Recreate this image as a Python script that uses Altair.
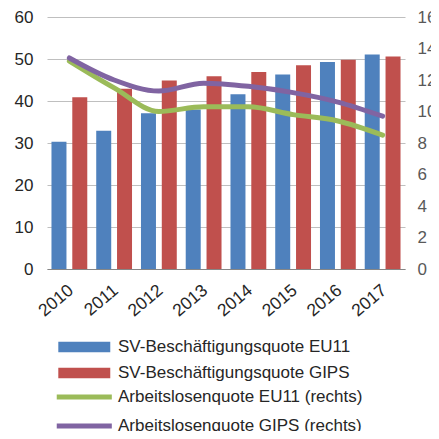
import altair as alt
import pandas as pd

years = ["2010", "2011", "2012", "2013", "2014", "2015", "2016", "2017"]
emp_eu11 = [30.3, 32.9, 37.1, 38.0, 41.6, 46.3, 49.3, 51.1]
emp_gips = [40.9, 42.9, 44.9, 45.9, 46.9, 48.5, 49.8, 50.6]
unemp_eu11 = [13.2, 11.5, 10.0, 10.3, 10.3, 9.8, 9.4, 8.5]
unemp_gips = [13.4, 12.0, 11.3, 11.8, 11.6, 11.2, 10.6, 9.7]

bar_names = ["SV-Beschäftigungsquote EU11", "SV-Beschäftigungsquote GIPS"]
line_names = ["Arbeitslosenquote EU11 (rechts)", "Arbeitslosenquote GIPS (rechts)"]
bar_colors = ["#4F81BD", "#C0504D"]
line_colors = ["#9BBB59", "#8064A2"]

bars_df = pd.DataFrame(
    [{"Jahr": y, "Serie": bar_names[0], "Wert": v} for y, v in zip(years, emp_eu11)]
    + [{"Jahr": y, "Serie": bar_names[1], "Wert": v} for y, v in zip(years, emp_gips)]
)
lines_df = pd.DataFrame(
    [{"Jahr": y, "Serie": line_names[0], "Wert": v} for y, v in zip(years, unemp_eu11)]
    + [{"Jahr": y, "Serie": line_names[1], "Wert": v} for y, v in zip(years, unemp_gips)]
)

x_enc = alt.X(
    "Jahr:N",
    sort=years,
    title=None,
    scale=alt.Scale(paddingInner=0.2, paddingOuter=0.1),
    axis=alt.Axis(
        labelAngle=-40,
        labelAlign="right",
        labelBaseline="top",
        labelFontSize=17.5,
        labelColor="#262626",
        labelPadding=12,
        labelOffset=-4,
        ticks=False,
        domainColor="#868686",
        domainWidth=1,
        grid=False,
    ),
)

legend_common = dict(
    orient="none",
    legendX=8,
    title=None,
    padding=0,
    labelFontSize=17,
    labelColor="#262626",
    labelLimit=400,
    labelOffset=46,
    rowPadding=8,
    symbolSize=108,
)

bars = alt.Chart(bars_df).mark_bar().encode(
    x=x_enc,
    xOffset=alt.XOffset("Serie:N", sort=bar_names, scale=alt.Scale(paddingInner=0.28)),
    y=alt.Y(
        "Wert:Q",
        title=None,
        scale=alt.Scale(domain=[0, 60], nice=False),
        axis=alt.Axis(
            values=[0, 10, 20, 30, 40, 50, 60],
            labelFontSize=17,
            labelColor="#262626",
            labelPadding=14,
            ticks=False,
            domain=False,
            grid=True,
            gridColor="#BFBFBF",
            gridWidth=1,
        ),
    ),
    color=alt.Color(
        "Serie:N",
        sort=bar_names,
        scale=alt.Scale(domain=bar_names, range=bar_colors),
        legend=alt.Legend(
            legendY=321.5,
            symbolType="M-1,-1L9,-1L9,1L-1,1Z",
            symbolStrokeWidth=0,
            symbolOpacity=1,
            **legend_common,
        ),
    ),
)

lines = alt.Chart(lines_df).mark_line(
    strokeWidth=5, interpolate="monotone", strokeCap="round", strokeJoin="round"
).encode(
    x=x_enc,
    y=alt.Y(
        "Wert:Q",
        title=None,
        scale=alt.Scale(domain=[0, 16], nice=False),
        axis=alt.Axis(
            orient="right",
            values=[0, 2, 4, 6, 8, 10, 12, 14, 16],
            labelFontSize=17,
            labelColor="#595959",
            labelPadding=12,
            ticks=False,
            domain=False,
            grid=False,
        ),
    ),
    stroke=alt.Stroke(
        "Serie:N",
        sort=line_names,
        scale=alt.Scale(domain=line_names, range=line_colors),
        legend=alt.Legend(
            legendY=371.5,
            symbolType="M-1.3,0L9.3,0",
            symbolStrokeWidth=5,
            **legend_common,
        ),
    ),
)

chart = (
    alt.layer(bars, lines)
    .resolve_scale(y="independent", color="independent")
    .properties(
        width=358,
        height=252,
        padding={"left": 39, "top": 9, "right": 26, "bottom": 162},
        autosize=alt.AutoSizeParams(type="none"),
    )
    .configure(font="Liberation Sans")
    .configure_view(stroke=None)
)

chart.save("out.html", embed_options={"renderer": "svg", "actions": False})
